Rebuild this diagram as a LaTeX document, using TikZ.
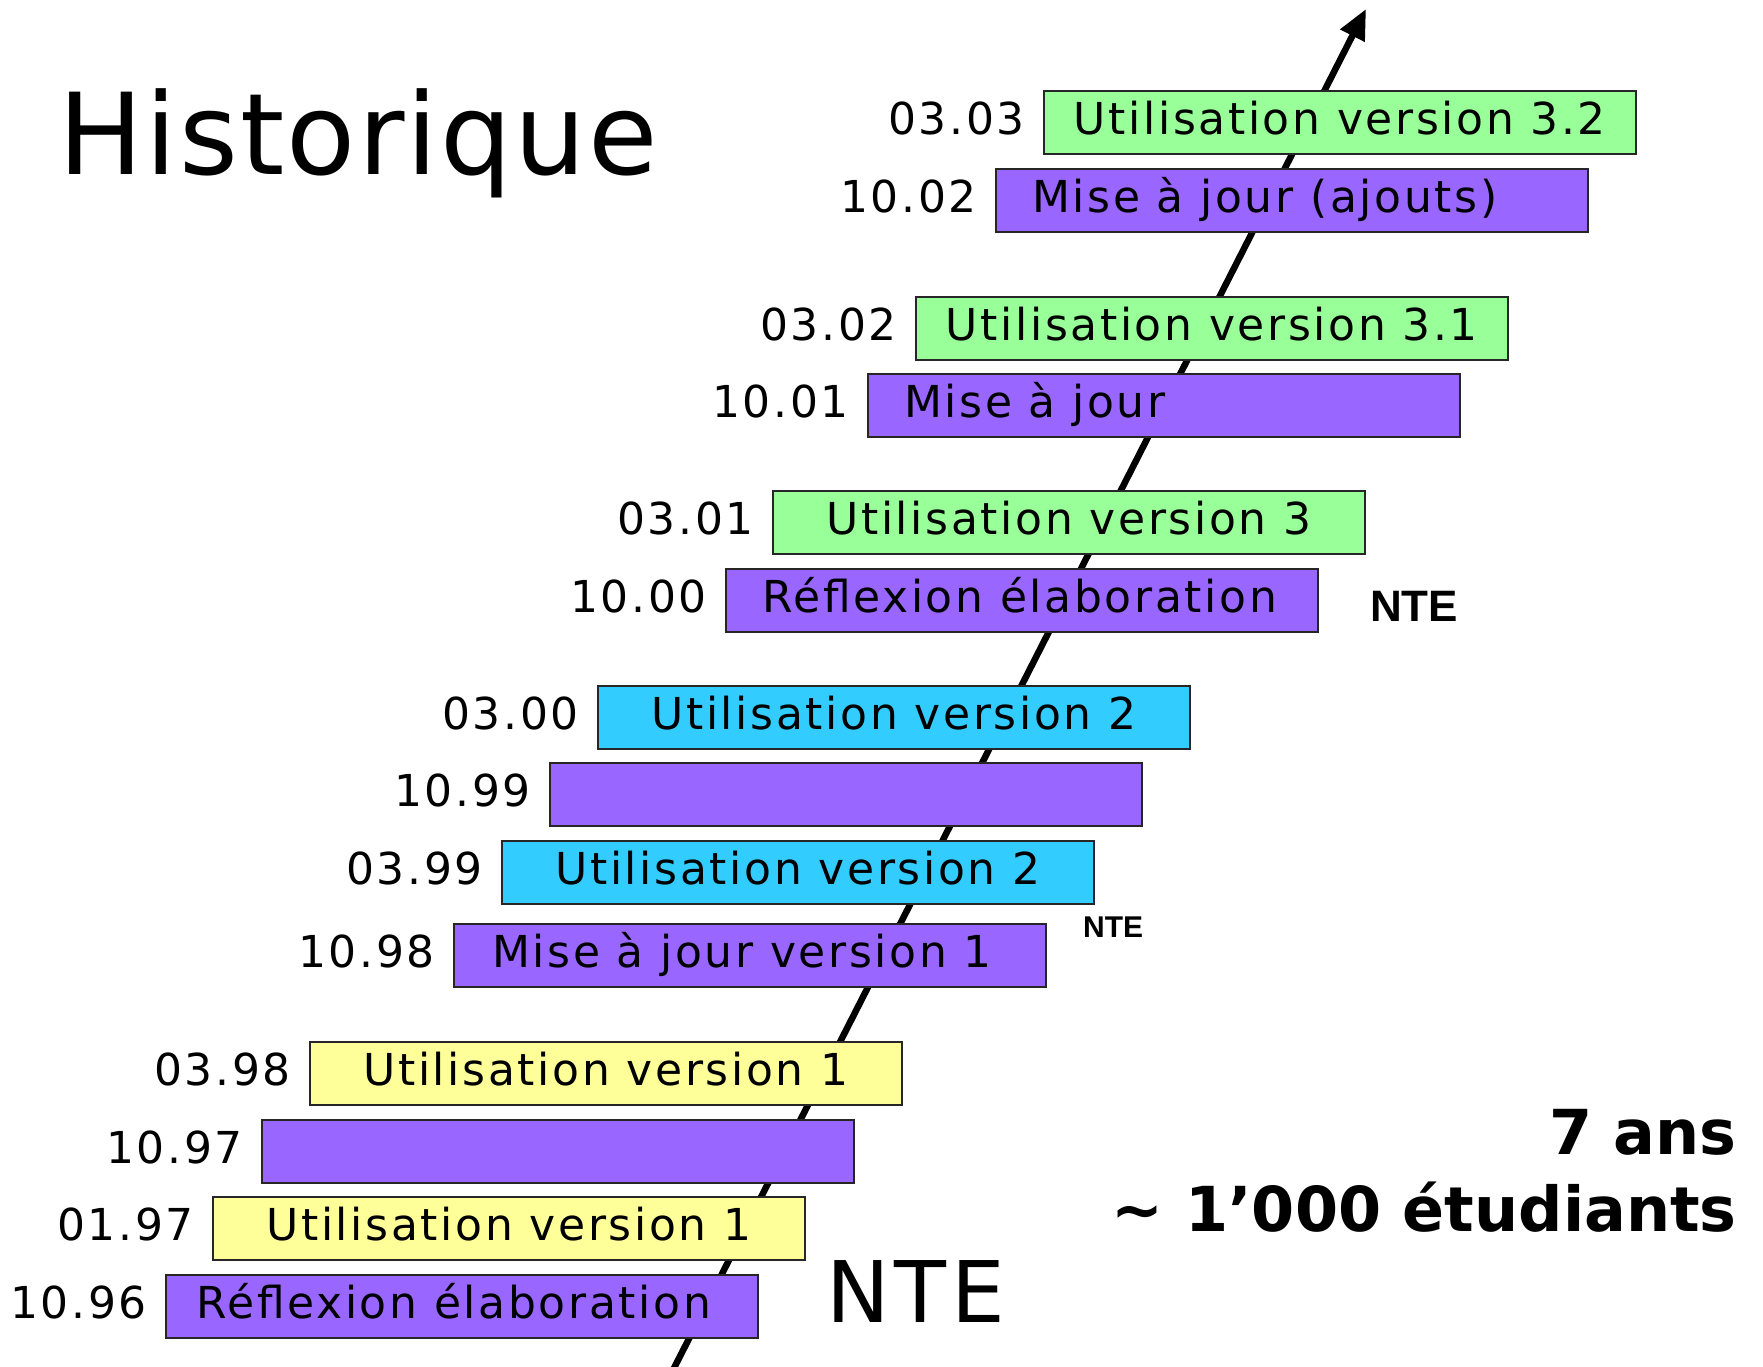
\documentclass[tikz,border=0pt]{standalone}
\usepackage{fontspec}
\usetikzlibrary{arrows.meta,calc}
\newfontfamily\boxfont[LetterSpace=6]{DejaVu Sans}
\newfontfamily\titlefont[LetterSpace=2]{DejaVu Sans}
\newfontfamily\boldfont{DejaVu Sans Bold}
\newfontfamily\ntefont{Liberation Sans Bold}
\definecolor{cgreen}{HTML}{99FF99}
\definecolor{cpurple}{HTML}{9966FF}
\definecolor{cblue}{HTML}{33CCFF}
\definecolor{cyellow}{HTML}{FFFF99}
\tikzset{
  bx/.style={draw=black!85, line width=1.5pt, minimum width=592pt, minimum height=63pt,
    anchor=north west, inner sep=0pt},
  lbl/.style={inner sep=0pt, font=\boxfont\fontsize{44}{44}\selectfont},
  datelbl/.style={inner sep=0pt, anchor=base east, font=\boxfont\fontsize{44}{44}\selectfont},
  timeline/.style={line width=6.5pt, -{Triangle[length=30pt,width=26pt]}},
}
\begin{document}
\begin{tikzpicture}[x=1pt,y=-1pt]
\useasboundingbox (0,0) rectangle (1763,1366);
% timeline arrow
\coordinate (start) at (672,1372);
\coordinate (tip) at (1366,9);
\draw[timeline] (start) -- (tip);
% title
\node[inner sep=0pt, anchor=base west, font=\titlefont\fontsize{113}{113}\selectfont] (title) at (58,174) {Historique};
% boxes
\node[bx, fill=cgreen]  (b1)  at (1043,90)  {};
\node[bx, fill=cpurple] (b2)  at (995,168)  {};
\node[bx, fill=cgreen]  (b3)  at (915,296)  {};
\node[bx, fill=cpurple] (b4)  at (867,373)  {};
\node[bx, fill=cgreen]  (b5)  at (772,490)  {};
\node[bx, fill=cpurple] (b6)  at (725,568)  {};
\node[bx, fill=cblue]   (b7)  at (597,685)  {};
\node[bx, fill=cpurple] (b8)  at (549,762)  {};
\node[bx, fill=cblue]   (b9)  at (501,840)  {};
\node[bx, fill=cpurple] (b10) at (453,923)  {};
\node[bx, fill=cyellow] (b11) at (309,1041) {};
\node[bx, fill=cpurple] (b12) at (261,1119) {};
\node[bx, fill=cyellow] (b13) at (212,1196) {};
\node[bx, fill=cpurple] (b14) at (165,1274) {};
% box texts
\node[lbl, anchor=base] (t1) at ($(b1.north)+(0,44)$) {Utilisation version 3.2};
\node[lbl, anchor=base west] (t2) at ($(b2.north west)+(37,44)$) {Mise à jour (ajouts)};
\node[lbl, anchor=base] (t3) at ($(b3.north)+(0,44)$) {Utilisation version 3.1};
\node[lbl, anchor=base west] (t4) at ($(b4.north west)+(37,44)$) {Mise à jour};
\node[lbl, anchor=base] (t5) at ($(b5.north)+(0,44)$) {Utilisation version 3};
\node[lbl, anchor=base west] (t6) at ($(b6.north west)+(37,44)$) {Réflexion élaboration};
\node[lbl, anchor=base] (t7) at ($(b7.north)+(0,44)$) {Utilisation version 2};
\node[lbl, anchor=base] (t9) at ($(b9.north)+(0,44)$) {Utilisation version 2};
\node[lbl, anchor=base west] (t10) at ($(b10.north west)+(39,44)$) {Mise à jour version 1};
\node[lbl, anchor=base] (t11) at ($(b11.north)+(0,44)$) {Utilisation version 1};
\node[lbl, anchor=base] (t13) at ($(b13.north)+(0,44)$) {Utilisation version 1};
\node[lbl, anchor=base west] (t14) at ($(b14.north west)+(31,44)$) {Réflexion élaboration};
% dates
\node[datelbl] (d1)  at ($(b1.north west)+(-18,44)$)  {03.03};
\node[datelbl] (d2)  at ($(b2.north west)+(-18,44)$)  {10.02};
\node[datelbl] (d3)  at ($(b3.north west)+(-18,44)$)  {03.02};
\node[datelbl] (d4)  at ($(b4.north west)+(-18,44)$)  {10.01};
\node[datelbl] (d5)  at ($(b5.north west)+(-18,44)$)  {03.01};
\node[datelbl] (d6)  at ($(b6.north west)+(-18,44)$)  {10.00};
\node[datelbl] (d7)  at ($(b7.north west)+(-18,44)$)  {03.00};
\node[datelbl] (d8)  at ($(b8.north west)+(-18,44)$)  {10.99};
\node[datelbl] (d9)  at ($(b9.north west)+(-18,44)$)  {03.99};
\node[datelbl] (d10) at ($(b10.north west)+(-18,44)$) {10.98};
\node[datelbl] (d11) at ($(b11.north west)+(-18,44)$) {03.98};
\node[datelbl] (d12) at ($(b12.north west)+(-18,44)$) {10.97};
\node[datelbl] (d13) at ($(b13.north west)+(-18,44)$) {01.97};
\node[datelbl] (d14) at ($(b14.north west)+(-18,44)$) {10.96};
% NTE labels
\node[inner sep=0pt, anchor=base west, font=\ntefont\fontsize{44}{44}\selectfont] (nte1) at (1370,621) {NTE};
\node[inner sep=0pt, anchor=base west, font=\ntefont\fontsize{30}{30}\selectfont] (nte2) at (1083,937) {NTE};
\node[inner sep=0pt, anchor=base west, font=\boxfont\fontsize{85}{85}\selectfont] (nte3) at (826,1322) {NTE};
% summary
\node[inner sep=0pt, anchor=base east, font=\boldfont\fontsize{62}{62}\selectfont] (ans) at (1737,1154) {7 ans};
\node[inner sep=0pt, anchor=base east, font=\boldfont\fontsize{62}{62}\selectfont] (etu) at (1737,1231) {\char"007E{} 1’000 étudiants};
\end{tikzpicture}
\end{document}
